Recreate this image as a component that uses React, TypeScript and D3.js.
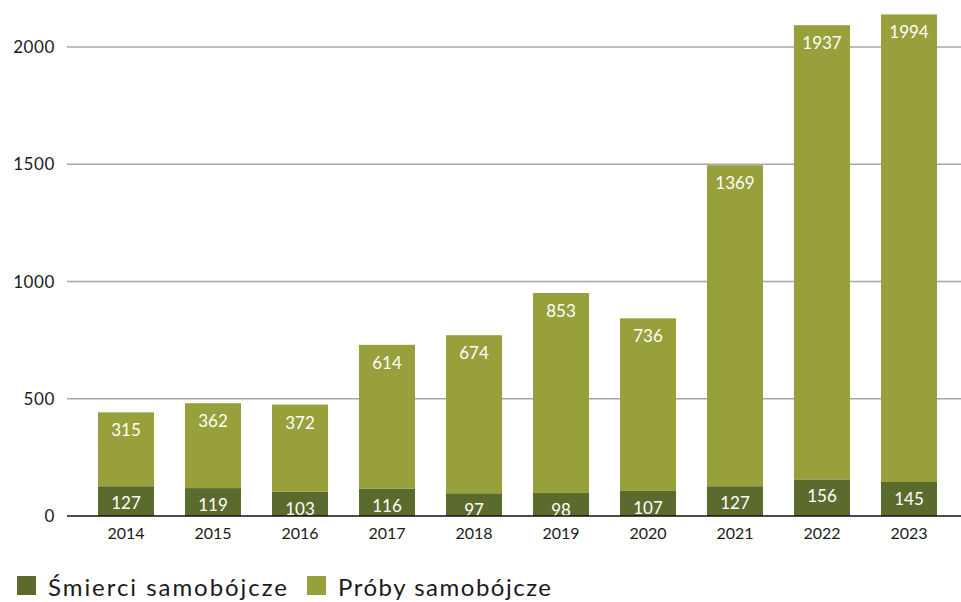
import React, { useEffect, useRef } from 'react';
import * as d3 from 'd3';

const years = ['2014', '2015', '2016', '2017', '2018', '2019', '2020', '2021', '2022', '2023'];
const deaths = [127, 119, 103, 116, 97, 98, 107, 127, 156, 145];
const attempts = [315, 362, 372, 614, 674, 853, 736, 1369, 1937, 1994];
const yTicks = [0, 500, 1000, 1500, 2000];
const seriesNames = ['Śmierci samobójcze', 'Próby samobójcze'];
const colors = ['#5b6b2d', '#97a03b'];

const width = 961;
const height = 602;
const font = 'Lato, "Open Sans", sans-serif';

export default function App() {
  const svgRef = useRef<SVGSVGElement>(null);

  useEffect(() => {
    if (!svgRef.current) return;
    const svg = d3.select(svgRef.current);
    svg.selectAll('*').remove();

    const plotLeft = 67;
    const plotRight = 961;

    const x = d3.scaleBand<string>()
      .domain(years)
      .range([82.5, 952.5])
      .paddingInner(0.356)
      .paddingOuter(0.178);

    const y = d3.scaleLinear()
      .domain([0, 2000])
      .range([516, 47]);

    // gridlines
    svg.append('g')
      .selectAll('line')
      .data(yTicks.filter(t => t > 0))
      .enter()
      .append('line')
      .attr('x1', plotLeft)
      .attr('x2', plotRight)
      .attr('y1', d => y(d))
      .attr('y2', d => y(d))
      .attr('stroke', '#a6a6a6')
      .attr('stroke-width', 1.3);

    // y tick labels
    svg.append('g')
      .selectAll('text')
      .data(yTicks)
      .enter()
      .append('text')
      .attr('x', 55)
      .attr('y', d => y(d) + 6)
      .attr('text-anchor', 'end')
      .attr('font-family', font)
      .attr('font-size', 17)
      .attr('letter-spacing', 0.6)
      .attr('fill', '#1a1a1a')
      .text(d => d);

    const rows = years.map((yr, i) => ({ yr, d: deaths[i], a: attempts[i] }));

    const bars = svg.append('g');
    // deaths segment
    bars.selectAll('.death')
      .data(rows)
      .enter()
      .append('rect')
      .attr('x', r => x(r.yr)!)
      .attr('width', x.bandwidth())
      .attr('y', r => y(r.d))
      .attr('height', r => y(0) - y(r.d))
      .attr('fill', colors[0]);

    // attempts segment
    bars.selectAll('.attempt')
      .data(rows)
      .enter()
      .append('rect')
      .attr('x', r => x(r.yr)!)
      .attr('width', x.bandwidth())
      .attr('y', r => y(r.d + r.a))
      .attr('height', r => y(r.d) - y(r.d + r.a))
      .attr('fill', colors[1]);

    // value labels
    const labels = svg.append('g')
      .attr('font-family', font)
      .attr('font-size', 17)
      .attr('fill', '#ffffff')
      .attr('text-anchor', 'middle');

    labels.selectAll('.dl')
      .data(rows)
      .enter()
      .append('text')
      .attr('x', r => x(r.yr)! + x.bandwidth() / 2)
      .attr('y', r => y(r.d) + 23)
      .text(r => r.d);

    labels.selectAll('.al')
      .data(rows)
      .enter()
      .append('text')
      .attr('x', r => x(r.yr)! + x.bandwidth() / 2)
      .attr('y', r => y(r.d + r.a) + 24)
      .text(r => r.a);

    // zero axis
    svg.append('line')
      .attr('x1', plotLeft)
      .attr('x2', plotRight)
      .attr('y1', y(0))
      .attr('y2', y(0))
      .attr('stroke', '#111')
      .attr('stroke-width', 1.3);

    // x labels
    svg.append('g')
      .selectAll('text')
      .data(years)
      .enter()
      .append('text')
      .attr('x', d => x(d)! + x.bandwidth() / 2)
      .attr('y', 539)
      .attr('text-anchor', 'middle')
      .attr('font-family', font)
      .attr('font-size', 16)
      .attr('fill', '#1a1a1a')
      .text(d => d);

    // legend
    const legendX = [17, 307];
    const legendLen = [239, 213];
    const legend = svg.append('g');
    seriesNames.forEach((name, i) => {
      legend.append('rect')
        .attr('x', legendX[i])
        .attr('y', 576)
        .attr('width', 19)
        .attr('height', 19)
        .attr('fill', colors[i]);
      legend.append('text')
        .attr('x', legendX[i] + 31)
        .attr('y', 596)
        .attr('font-family', font)
        .attr('font-size', 24)
        .attr('textLength', legendLen[i])
        .attr('lengthAdjust', 'spacing')
        .attr('fill', '#1a1a1a')
        .text(name);
    });
  }, []);

  return (
    <div style={{ position: 'fixed', left: 0, top: 0 }}>
      <svg ref={svgRef} width={width} height={height} style={{ display: 'block', background: '#fff' }} />
    </div>
  );
}
